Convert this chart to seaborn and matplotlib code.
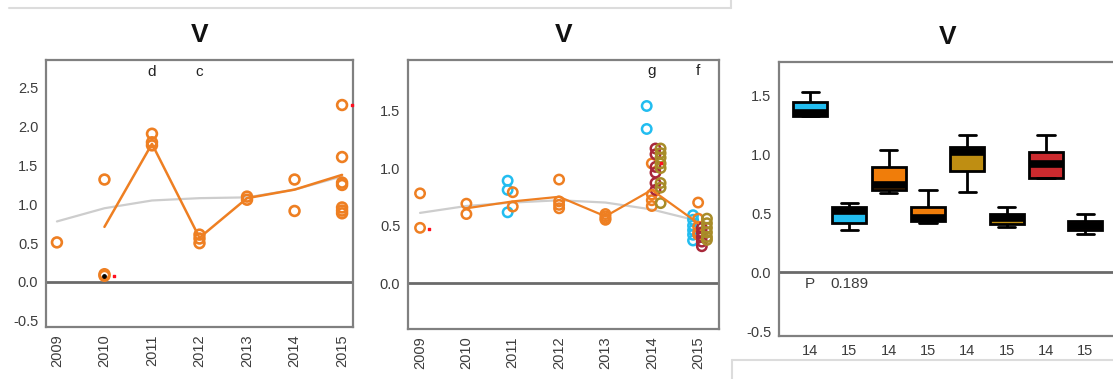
import numpy as np
import pandas as pd
import matplotlib
matplotlib.use("Agg")
import matplotlib.pyplot as plt
import seaborn as sns
from matplotlib.lines import Line2D

# ---------------- data ----------------
years = [2009, 2010, 2011, 2012, 2013, 2014, 2015]

# left panel: single series
p1_year = [2009, 2010, 2010, 2010, 2011, 2011, 2011, 2012, 2012, 2012,
           2013, 2013, 2014, 2014, 2015, 2015, 2015, 2015, 2015, 2015, 2015]
p1_value = [0.51, 1.32, 0.10, 0.08, 1.91, 1.80, 1.76, 0.61, 0.56, 0.50,
            1.10, 1.06, 1.32, 0.915, 2.28, 1.61, 1.28, 1.25, 0.96, 0.92, 0.885]
p1_mean_year = [2010, 2011, 2012, 2013, 2014, 2015]
p1_mean = [0.71, 1.78, 0.57, 1.08, 1.19, 1.38]
p1_trend = [0.78, 0.95, 1.05, 1.08, 1.09, 1.19, 1.36]
p1_flag_year = [2010, 2015]
p1_flag_value = [0.08, 2.28]
p1_dark_year = [2010]
p1_dark_value = [0.08]
p1_letter_year = [2011, 2012]
p1_letters = ["d", "c"]

# middle panel: four groups
blue_year = [2011, 2011, 2011, 2014, 2014, 2015, 2015, 2015, 2015, 2015, 2015]
blue_value = [0.89, 0.81, 0.615, 1.54, 1.34, 0.59, 0.55, 0.50, 0.46, 0.42, 0.37]
orange_year = [2009, 2009, 2010, 2010, 2011, 2011, 2012, 2012, 2012, 2012,
               2013, 2013, 2013, 2013, 2014, 2014, 2014, 2014,
               2015, 2015, 2015, 2015, 2015]
orange_value = [0.78, 0.48, 0.69, 0.60, 0.79, 0.665, 0.90, 0.71, 0.68, 0.65,
                0.60, 0.58, 0.56, 0.55, 1.04, 0.77, 0.72, 0.67,
                0.70, 0.56, 0.49, 0.44, 0.42]
darkred_year = [2014, 2014, 2014, 2014, 2014, 2014, 2015, 2015, 2015, 2015, 2015]
darkred_value = [1.17, 1.12, 1.01, 0.96, 0.87, 0.81, 0.48, 0.44, 0.40, 0.36, 0.32]
olive_year = [2014, 2014, 2014, 2014, 2014, 2014, 2014, 2014,
              2015, 2015, 2015, 2015, 2015, 2015]
olive_value = [1.17, 1.13, 1.09, 1.04, 1.00, 0.87, 0.83, 0.695,
               0.56, 0.52, 0.48, 0.44, 0.40, 0.375]
p2_mean_year = [2010, 2011, 2012, 2013, 2014, 2015]
p2_mean = [0.65, 0.71, 0.75, 0.58, 0.81, 0.52]
p2_trend = [0.61, 0.67, 0.70, 0.72, 0.70, 0.64, 0.54]
p2_flag_year = [2009, 2014]
p2_flag_value = [0.47, 1.04]
p2_letter_year = [2014, 2015]
p2_letters = ["g", "f"]

# right panel: five-number summaries (min, q1, median, q3, max)
box_names = ["blue 14", "blue 15", "orange 14", "orange 15",
             "olive 14", "olive 15", "red 14", "red 15"]
box_labels = ["14", "15", "14", "15", "14", "15", "14", "15"]
box_values = [
    [1.32, 1.32, 1.345, 1.44, 1.53],
    [0.36, 0.42, 0.52, 0.555, 0.59],
    [0.67, 0.70, 0.74, 0.89, 1.035],
    [0.42, 0.43, 0.455, 0.555, 0.695],
    [0.68, 0.855, 1.02, 1.06, 1.165],
    [0.385, 0.41, 0.46, 0.49, 0.555],
    [0.795, 0.80, 0.92, 1.015, 1.165],
    [0.32, 0.36, 0.39, 0.43, 0.49],
]
p_label = "P"
p_value = "0.189"

# ---------------- styling ----------------
sns.set_style("white")
plt.rcParams["font.family"] = ["Liberation Sans", "DejaVu Sans"]

ORANGE = "#EE7F22"
BLUE = "#22BDF0"
DARKRED = "#A8283A"
OLIVE = "#A88C28"
TREND = "#CDCDCD"
SPINE = "#808080"
TICKTXT = "#3c3c3c"

W, H = 1113, 379
fig = plt.figure(figsize=(W / 100, H / 100), dpi=100)


def px_axes(left, top, right, bottom):
    return fig.add_axes([left / W, 1 - bottom / H, (right - left) / W, (bottom - top) / H])


def style_axes(ax, ylim, yticks):
    ax.set_ylim(*ylim)
    ax.set_yticks(yticks)
    ax.set_yticklabels([f"{t:.1f}" for t in yticks])
    for sp in ax.spines.values():
        sp.set_color(SPINE)
        sp.set_linewidth(1.6)
        sp.set_visible(True)
    ax.tick_params(axis="both", direction="out", length=3.5, width=1.0,
                   color=SPINE, labelcolor=TICKTXT, pad=2)
    ax.tick_params(axis="y", labelsize=10.5)
    ax.axhline(0, color="#6a6a6a", lw=2.0, zorder=1)
    ax.set_xlabel("")
    ax.set_ylabel("")
    ax.set_title("V", fontsize=19, fontweight="bold", pad=13, color="#111111")


def hollow_scatter(ax, df, x, y, hue, palette, size=50, lw=1.9, z=3):
    sns.scatterplot(data=df, x=x, y=y, hue=hue, palette=palette, s=size,
                    linewidth=lw, legend=False, ax=ax, zorder=z)
    coll = ax.collections[-1]
    fc = coll.get_facecolors()
    coll.set_edgecolors(fc)
    coll.set_facecolors("none")


# ---------------- left panel ----------------
ax1 = px_axes(46, 60, 353, 327)
sns.lineplot(x=years, y=p1_trend, color=TREND, lw=1.6, ax=ax1, zorder=2)
df1 = pd.DataFrame({"year": p1_year, "value": p1_value, "grp": "a"})
hollow_scatter(ax1, df1, "year", "value", "grp", {"a": ORANGE})
sns.lineplot(x=p1_mean_year, y=p1_mean, color=ORANGE, lw=1.8, ax=ax1, zorder=4)
ax1.scatter(p1_dark_year, p1_dark_value, s=6, color="black", zorder=5)
ax1.scatter(np.array(p1_flag_year) + 0.21, p1_flag_value, s=4, marker="s",
            color="#FF1020", zorder=5, clip_on=False)
for yr, lt in zip(p1_letter_year, p1_letters):
    ax1.text(yr, 2.70, lt, ha="center", va="center", fontsize=11, color="#222222")
ax1.set_xlim(2008.77, 2015.23)
ax1.set_xticks(years)
ax1.set_xticklabels([str(y) for y in years], rotation=90, fontsize=10.5)
style_axes(ax1, (-0.58, 2.86), [-0.5, 0.0, 0.5, 1.0, 1.5, 2.0, 2.5])

# ---------------- middle panel ----------------
ax2 = px_axes(408, 60, 719, 329)
offsets = {"blue": -0.11, "orange": 0.0, "darkred": 0.08, "olive": 0.19}
frames = []
for g, yrs, vals in [("blue", blue_year, blue_value),
                     ("orange", orange_year, orange_value),
                     ("darkred", darkred_year, darkred_value),
                     ("olive", olive_year, olive_value)]:
    frames.append(pd.DataFrame({"year": yrs, "value": vals, "grp": g}))
df2 = pd.concat(frames, ignore_index=True)
df2["xpos"] = df2["year"] + df2["grp"].map(offsets)
sns.lineplot(x=years, y=p2_trend, color=TREND, lw=1.6, ax=ax2, zorder=2)
pal2 = {"blue": BLUE, "orange": ORANGE, "darkred": DARKRED, "olive": OLIVE}
for g in ["blue", "orange", "darkred", "olive"]:
    sub = df2[df2["grp"] == g]
    hollow_scatter(ax2, sub, "xpos", "value", "grp", {g: pal2[g]}, size=46, lw=1.8)
sns.lineplot(x=p2_mean_year, y=p2_mean, color=ORANGE, lw=1.6, ax=ax2, zorder=4)
ax2.scatter(np.array(p2_flag_year) + 0.2, p2_flag_value, s=4, marker="s",
            color="#FF1020", zorder=5)
for yr, lt in zip(p2_letter_year, p2_letters):
    ax2.text(yr, 1.84, lt, ha="center", va="center", fontsize=11, color="#222222")
ax2.set_xlim(2008.74, 2015.45)
ax2.set_xticks(years)
ax2.set_xticklabels([str(y) for y in years], rotation=90, fontsize=10.5)
style_axes(ax2, (-0.40, 1.94), [0.0, 0.5, 1.0, 1.5])

# ---------------- right panel ----------------
ax3 = px_axes(779, 62, 1116, 336)
box_colors = [BLUE, BLUE, "#F07D0A", "#F07D0A", "#BF8E12", "#BF8E12", "#CC2A2E", "#CC2A2E"]
df3 = pd.DataFrame({"box": np.repeat(box_names, 5),
                    "value": np.concatenate(box_values)})
sns.boxplot(data=df3, x="box", y="value", hue="box", order=box_names,
            hue_order=box_names, palette=dict(zip(box_names, box_colors)),
            saturation=1, whis=(0, 100), width=0.87, dodge=False, legend=False,
            linewidth=2.0, linecolor="black",
            medianprops=dict(color="black", linewidth=5.5, solid_capstyle="butt"),
            ax=ax3)
ax3.text(0, -0.10, p_label, ha="center", va="center", fontsize=11, color=TICKTXT)
ax3.text(1, -0.10, p_value, ha="center", va="center", fontsize=11, color=TICKTXT)
ax3.set_xlim(-0.79, 7.78)
ax3.set_xticks(range(len(box_labels)))
ax3.set_xticklabels(box_labels, fontsize=10.5)
style_axes(ax3, (-0.54, 1.78), [-0.5, 0.0, 0.5, 1.0, 1.5])

# thin frame lines around the panels
fig.add_artist(Line2D([9 / W, 731 / W], [1 - 8 / H, 1 - 8 / H], color="#dcdcdc", lw=1.5))
fig.add_artist(Line2D([731 / W, 731 / W], [1, 1 - 8 / H], color="#dcdcdc", lw=1.5))
fig.add_artist(Line2D([732 / W, 1.0], [1 - 360 / H, 1 - 360 / H], color="#dcdcdc", lw=1.5))
fig.add_artist(Line2D([732 / W, 732 / W], [1 - 360 / H, 0], color="#dcdcdc", lw=1.5))

fig.savefig("out.png", dpi=100)
